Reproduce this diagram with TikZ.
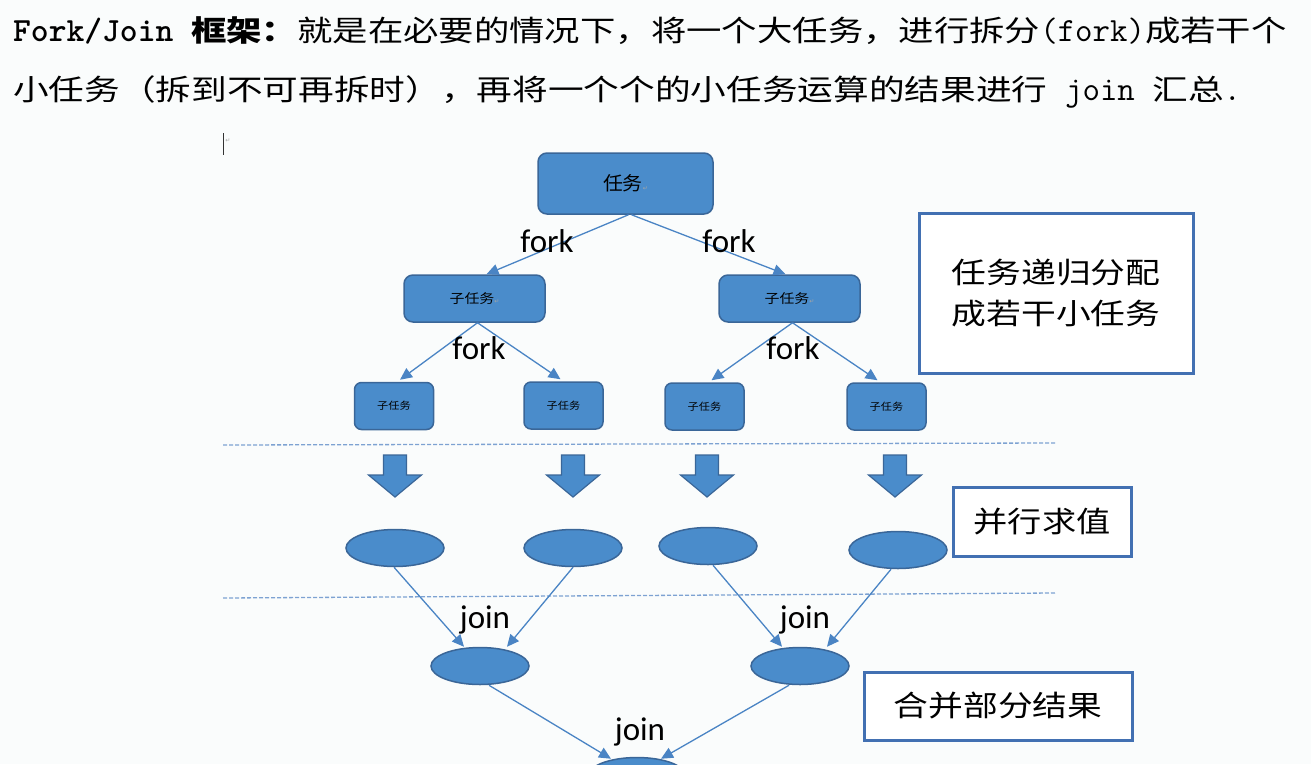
\documentclass[tikz,border=0pt]{standalone}
\usepackage{fontspec}
\usepackage{graphicx}
\usetikzlibrary{arrows.meta,calc,shapes.geometric}
\newfontfamily\cjk{Noto Sans CJK SC}
\newcommand\lmono{\ttfamily}
\newfontfamily\calfont{Carlito}
\newfontfamily\djv{DejaVu Sans}
\newcommand\cjs[2][1.22]{\scalebox{#1}[1]{\cjk #2}}
\newcommand\rmk{{\djv\color{gray!70}\fontsize{6}{6}\selectfont ↵}}
\definecolor{blu}{RGB}{74,140,203}
\definecolor{bdr}{RGB}{58,102,152}
\definecolor{lin}{RGB}{74,132,196}
\definecolor{dsh}{RGB}{125,162,210}
\definecolor{lbx}{RGB}{66,112,178}
\definecolor{bgc}{RGB}{250,252,252}
\begin{document}
\begin{tikzpicture}[x=1pt,y=-1pt,
  task/.style={draw=bdr, fill=blu, rounded corners=9pt, line width=1.5pt, inner sep=0pt},
  ell/.style={ellipse, draw=bdr, fill=blu, line width=1.5pt, minimum width=98pt, minimum height=37pt, inner sep=0pt},
  lbl/.style={draw=lbx, line width=3pt, fill=white, inner sep=0pt, align=center},
  con/.style={draw=lin, line width=1.3pt, -{Triangle[length=12pt,width=11pt]}},
  fk/.style={font=\calfont\fontsize{33}{36}\selectfont, inner sep=0pt},
  sep/.style={draw=dsh, line width=1.3pt, dash pattern=on 4pt off 2pt},
  blk/.style={draw=bdr, fill=blu, line width=1.2pt, line join=miter},
  blockarrow/.pic={\draw[blk] (-11.5,0) -- (11.5,0) -- (11.5,20) -- (26.5,20) -- (0,42) -- (-26.5,20) -- (-11.5,20) -- cycle;}
]
\useasboundingbox (0,0) rectangle (1311,764);
\clip (0,0) rectangle (1311,764);
\fill[bgc] (0,0) rectangle (1311,764);

% header
\node[anchor=base west, inner sep=0pt, font=\fontsize{29}{32}\selectfont] (h1) at (13,41)
 {{\lmono\bfseries\fontsize{33.9}{36}\selectfont Fork/Join }\cjs{\bfseries 框架：}\cjs{就是在必要的情况下，将一个大任务，进行拆分}{\lmono\fontsize{33.9}{36}\selectfont (fork)}\cjs{成若干个}};
\node[anchor=base west, inner sep=0pt, font=\fontsize{29}{32}\selectfont] (h2) at (13,100)
 {\cjs[1.23]{小任务（拆到不可再拆时），再将一个个的小任务运算的结果进行}{\lmono\fontsize{33.9}{36}\selectfont\ join\ }\cjs[1.23]{汇总}{\lmono\fontsize{33.9}{36}\selectfont .}};

% cursor mark
\coordinate (cu1) at (223,133);
\coordinate (cu2) at (223,155);
\draw[line width=1pt, black!80] (cu1) -- (cu2);
\node[inner sep=0pt] (cur) at (228,141) {\rmk};

% task tree
\node[task, minimum width=175pt, minimum height=61pt, font=\fontsize{19}{20}\selectfont] (t0) at (625.5,183.5) {\cjs[1.05]{任务}\rmk};
\node[task, minimum width=141pt, minimum height=47pt, font=\fontsize{13}{14}\selectfont] (c1) at (474.5,298.5) {\cjs[1.15]{子任务}\rmk};
\node[task, minimum width=141pt, minimum height=47pt, font=\fontsize{13}{14}\selectfont] (c2) at (789.5,298.5) {\cjs[1.15]{子任务}\rmk};
\node[task, minimum width=79pt, minimum height=47pt, rounded corners=7pt, font=\fontsize{10}{11}\selectfont] (g1) at (394,406) {\cjs[1.12]{子任务}};
\node[task, minimum width=79pt, minimum height=47pt, rounded corners=7pt, font=\fontsize{10}{11}\selectfont] (g2) at (563.5,405.5) {\cjs[1.12]{子任务}};
\node[task, minimum width=79pt, minimum height=47pt, rounded corners=7pt, font=\fontsize{10}{11}\selectfont] (g3) at (704.5,406.5) {\cjs[1.12]{子任务}};
\node[task, minimum width=79pt, minimum height=47pt, rounded corners=7pt, font=\fontsize{10}{11}\selectfont] (g4) at (886.5,406.5) {\cjs[1.12]{子任务}};

\draw[con] ($(t0.south)+(3,0)$) -- ($(c1.north)+(12,0)$);
\draw[con] ($(t0.south)+(6,0)$) -- ($(c2.north)+(-4,0)$);
\draw[con] ($(c1.south)+(3,0)$) -- ($(g1.north)+(6,-2)$);
\draw[con] ($(c1.south)+(3,0)$) -- ($(g2.north)+(-3,-2)$);
\draw[con] ($(c2.south)+(3,0)$) -- ($(g3.north)+(7,-2)$);
\draw[con] ($(c2.south)+(3,0)$) -- ($(g4.north)+(-9,-2)$);

\node[fk] (f1) at (547,241) {fork};
\node[fk] (f2) at (729,241) {fork};
\node[fk] (f3) at (479,348) {fork};
\node[fk] (f4) at (793,348) {fork};

% separators
\coordinate (s1a) at (223,445); \coordinate (s1b) at (1055,443);
\coordinate (s2a) at (223,598); \coordinate (s2b) at (1055,593);
\draw[sep] (s1a) -- (s1b);
\draw[sep] (s2a) -- (s2b);

% block arrows
\pic at (395,455) {blockarrow};
\pic at (573,455) {blockarrow};
\pic at (707,455) {blockarrow};
\pic at (895,455) {blockarrow};

% result ellipses
\node[ell] (e1) at (395,548) {};
\node[ell] (e2) at (573,548) {};
\node[ell] (e3) at (708,546) {};
\node[ell] (e4) at (898,550) {};

\node[ell] (j1) at (480,666) {};
\node[ell] (j2) at (800,666) {};
\node[ell] (fin) at (637,776) {};

\draw[con] ($(e1.south)+(-1,0)$) -- ($(j1.north)+(-16,0)$);
\draw[con] ($(e2.south)+(0,0)$) -- ($(j1.north)+(27,0)$);
\draw[con] ($(e3.south)+(5,0)$) -- ($(j2.north)+(-18,0)$);
\draw[con] ($(e4.south)+(-7,0)$) -- ($(j2.north)+(27,0)$);
\draw[con] ($(j1.south)+(9,0)$) -- ($(fin.north)+(-26,2)$);
\draw[con] ($(j2.south)+(-11,0)$) -- ($(fin.north)+(24,2)$);

\node[fk] (jn1) at (485,620) {join};
\node[fk] (jn2) at (805,620) {join};
\node[fk] (jn3) at (640,732) {join};

% side labels
\node[lbl, minimum width=274pt, minimum height=160pt, font=\fontsize{29}{41}\selectfont] (L1) at (1056,293) {\cjs[1.2]{任务递归分配}\\\cjs[1.2]{成若干小任务}};
\node[lbl, minimum width=178pt, minimum height=69pt, font=\fontsize{29}{32}\selectfont] (L2) at (1042,521.5) {\cjs[1.18]{并行求值}};
\node[lbl, minimum width=268pt, minimum height=68pt, font=\fontsize{29}{32}\selectfont] (L3) at (998,706) {\cjs[1.2]{合并部分结果}};
\end{tikzpicture}
\end{document}
